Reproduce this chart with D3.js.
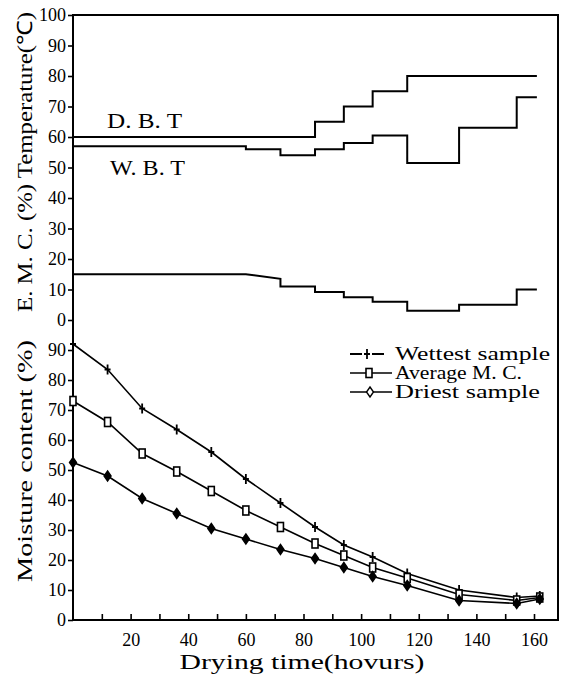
<!DOCTYPE html>
<html>
<head>
<meta charset="utf-8">
<script src="https://cdnjs.cloudflare.com/ajax/libs/d3/7.8.5/d3.min.js"></script>
<style>
    body { margin: 0; background: #fff; }
    text { font-family: "Liberation Serif", "Times New Roman", serif; fill: #000; }
</style>
</head>
<body>
<div id="canvas"></div>
<script>
// moisture content of the samples (bottom panel)
var hours = [0, 12, 24, 36, 48, 60, 72, 84, 94, 104, 116, 134, 154, 162]
var wettest = [92, 83.5, 70.5, 63.5, 56, 47, 39, 31, 25, 21, 15.5, 10, 7.5, 8]
var average = [73, 66, 55.5, 49.5, 43, 36.5, 31, 25.5, 21.5, 17.5, 14, 8.5, 6.5, 7.5]
var driest = [52.5, 48, 40.5, 35.5, 30.5, 27, 23.5, 20.5, 17.5, 14.5, 11.5, 6.5, 5.5, 7]

// drying schedule (top panel)
var dbtHours = [0, 84, 94, 104, 116, 161]
var dbt = [60, 65, 70, 75, 80, 80]
var wbtHours = [0, 60, 72, 84, 94, 104, 116, 134, 154, 161]
var wbt = [57, 56, 54, 56, 58, 60.5, 51.5, 63, 73, 73]
var emcHours = [0, 60, 72, 72, 84, 84, 94, 94, 104, 104, 116, 116, 134, 134, 154, 154, 161]
var emc = [15, 15, 13.5, 11, 11, 9.2, 9.2, 7.5, 7.5, 6, 6, 3, 3, 5, 5, 10, 10]

var xTicks = [10, 20, 30, 40, 50, 60, 70, 80, 90, 100, 110, 120, 130, 140, 150, 160]
var topTicks = [0, 10, 20, 30, 40, 50, 60, 70, 80, 90, 100]
var botTicks = [0, 10, 20, 30, 40, 50, 60, 70, 80, 90]

var width = 566
var height = 681
var x0 = 73, x1 = 558, yTopEdge = 15, yMid = 320, yBottom = 620

var svg = d3.select("#canvas")
    .append("svg")
    .attr("width", width)
    .attr("height", height)

var xScale = d3.scaleLinear().domain([0, 160]).range([x0, 534])
var yTop = d3.scaleLinear().domain([0, 100]).range([yMid, yTopEdge])
var yBot = d3.scaleLinear().domain([0, 100]).range([yBottom, yMid])

// frame
svg.append("path")
    .attr("d", `M${x0},${yTopEdge}H${x1}V${yBottom}H${x0}Z`)
    .attr("fill", "none")
    .attr("stroke", "#000")
    .attr("stroke-width", 2)

// y axes
function styleAxis(g) {
    g.select(".domain").remove()
    g.selectAll("line").attr("stroke-width", 1.6)
    g.selectAll("text").style("font-size", "18px").attr("font-family", null)
}

svg.append("g")
    .attr("transform", `translate(${x0},0)`)
    .call(d3.axisLeft(yTop).tickValues(topTicks).tickSize(5).tickPadding(2))
    .call(styleAxis)

svg.append("g")
    .attr("transform", `translate(${x0},0)`)
    .call(d3.axisLeft(yBot).tickValues(botTicks).tickSize(5).tickPadding(2))
    .call(styleAxis)

// x axis, ticks pointing in
svg.append("g")
    .attr("transform", `translate(0,${yBottom})`)
    .call(d3.axisBottom(xScale).tickValues(xTicks).tickSize(-6).tickPadding(13)
        .tickFormat(function (d) { return d % 20 == 0 ? d : "" }))
    .call(styleAxis)

// axis titles
svg.append("text")
    .attr("transform", `translate(32,${(12 + 312) / 2}) rotate(-90)`)
    .attr("text-anchor", "middle")
    .attr("textLength", 300)
    .attr("lengthAdjust", "spacingAndGlyphs")
    .style("font-size", "21px")
    .text("E. M. C. (%) Temperature(℃)")

svg.append("text")
    .attr("transform", `translate(32,${(340 + 582) / 2}) rotate(-90)`)
    .attr("text-anchor", "middle")
    .attr("textLength", 242)
    .attr("lengthAdjust", "spacingAndGlyphs")
    .style("font-size", "21px")
    .text("Moisture content (%)")

svg.append("text")
    .attr("x", 302)
    .attr("y", 669)
    .attr("text-anchor", "middle")
    .attr("textLength", 245)
    .attr("lengthAdjust", "spacingAndGlyphs")
    .style("font-size", "20px")
    .text("Drying time(hovurs)")

// top panel lines
function drawTop(xs, ys, curve) {
    var pts = xs.map(function (d, i) { return [d, ys[i]] })
    svg.append("path")
        .datum(pts)
        .attr("fill", "none")
        .attr("stroke", "#000")
        .attr("stroke-width", 2)
        .attr("d", d3.line()
            .x(function (d) { return xScale(d[0]) })
            .y(function (d) { return yTop(d[1]) })
            .curve(curve))
}
drawTop(dbtHours, dbt, d3.curveStepAfter)
drawTop(wbtHours, wbt, d3.curveStepAfter)
drawTop(emcHours, emc, d3.curveLinear)

svg.append("text").attr("x", 107).attr("y", 128)
    .attr("textLength", 75).attr("lengthAdjust", "spacingAndGlyphs")
    .style("font-size", "21px").text("D. B. T")
svg.append("text").attr("x", 110).attr("y", 175)
    .attr("textLength", 75).attr("lengthAdjust", "spacingAndGlyphs")
    .style("font-size", "21px").text("W. B. T")

// marker shapes
function plus(g, x, y) {
    g.append("path")
        .attr("d", `M${x},${y - 5}V${y + 5}M${x - 3},${y}H${x + 3}`)
        .attr("stroke", "#000").attr("stroke-width", 1.8)
}
function square(g, x, y) {
    g.append("rect")
        .attr("x", x - 3).attr("y", y - 4.5)
        .attr("width", 6).attr("height", 9)
        .attr("fill", "#fff").attr("stroke", "#000").attr("stroke-width", 1.6)
}
function diamond(g, x, y, fill) {
    g.append("path")
        .attr("d", `M${x},${y - 5}L${x + 3.5},${y}L${x},${y + 5}L${x - 3.5},${y}Z`)
        .attr("fill", fill).attr("stroke", "#000").attr("stroke-width", 1.4)
}

var series = [
    { name: "Wettest sample", values: wettest, marker: plus },
    { name: "Average M. C.", values: average, marker: square },
    { name: "Driest sample", values: driest, marker: function (g, x, y) { diamond(g, x, y, "#000") } }
]

var mcLine = d3.line()
    .x(function (d) { return xScale(d[0]) })
    .y(function (d) { return yBot(d[1]) })

series.forEach(function (s) {
    var pts = hours.map(function (h, i) { return [h, s.values[i]] })
    svg.append("path")
        .datum(pts)
        .attr("fill", "none")
        .attr("stroke", "#000")
        .attr("stroke-width", 1.6)
        .attr("d", mcLine)
    var g = svg.append("g")
    pts.forEach(function (d) {
        s.marker(g, xScale(d[0]), yBot(d[1]))
    })
})

// legend
var legendY = [354, 373, 392]
var legendLen = [155, 127, 145]
series.forEach(function (s, i) {
    var g = svg.append("g")
    var y = legendY[i]
    if (i == 0) {
        g.append("path").attr("d", `M350,${y}H362M372,${y}H384`)
            .attr("stroke", "#000").attr("stroke-width", 2)
        plus(g, 367, y)
    } else {
        g.append("path").attr("d", `M350,${y}H392`)
            .attr("stroke", "#000").attr("stroke-width", 1.4)
        if (i == 1) square(g, 369, y)
        else diamond(g, 370, y, "#fff")
    }
    g.append("text")
        .attr("x", 395)
        .attr("y", y + 6)
        .attr("textLength", legendLen[i])
        .attr("lengthAdjust", "spacingAndGlyphs")
        .style("font-size", "18px")
        .text(s.name)
})
</script>
</body>
</html>
